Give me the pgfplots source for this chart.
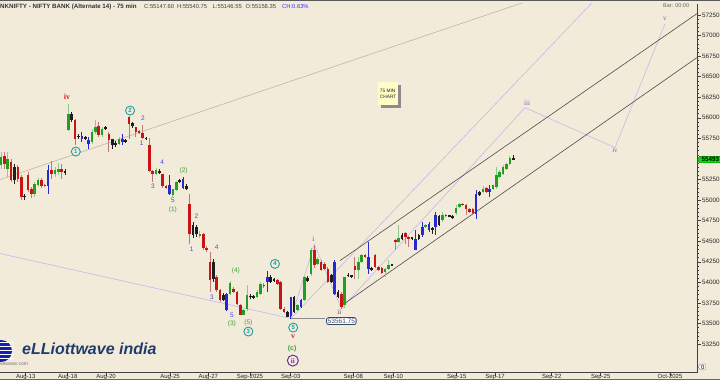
\documentclass[border=0pt]{standalone}
\usepackage{pgfplots}
\pgfplotsset{compat=1.18}
\usepackage{pgfplotstable}
\usepackage{fontspec}
\setmainfont{Liberation Sans}
\newfontfamily\seriffont{Liberation Serif}
\usetikzlibrary{shapes.symbols}
\definecolor{bg}{HTML}{F3EBD9}
\definecolor{cG}{HTML}{20A020}
\definecolor{cR}{HTML}{C81414}
\definecolor{cK}{HTML}{1E1E1E}
\definecolor{cB}{HTML}{2828D2}
\definecolor{wG}{HTML}{8CC88C}
\definecolor{wR}{HTML}{BE7878}
\definecolor{tealc}{HTML}{1E9E9E}
\definecolor{wblue}{HTML}{4646E6}
\definecolor{wgreen}{HTML}{3CA03C}
\definecolor{wred}{HTML}{E02020}
\definecolor{wpurp}{HTML}{7030A0}
\definecolor{lpurp}{HTML}{C4B8EA}
\definecolor{greyline}{HTML}{BDB5A6}
\definecolor{navy}{HTML}{1F3C6E}
\definecolor{slate}{HTML}{34486A}

\pgfplotstableread{
i t o h l c
1 1 55432 55590 55383 55529
2 2 55541 55590 55383 55444
3 1 55383 55590 55286 55505
4 2 55468 55505 55225 55249
5 3 55407 55444 55201 55249
6 2 55407 55432 55225 55262
7 2 55286 55310 55007 55043
8 3 55043 55080 55007 55055
9 2 55310 55347 55104 55128
10 2 55140 55165 55031 55080
11 1 55080 55225 55043 55201
12 1 55189 55274 55165 55249
13 2 55249 55274 55152 55177
14 2 55189 55201 55165 55177
15 4 55177 55432 55080 55371
16 2 55371 55480 55262 55322
17 1 55322 55407 55286 55371
18 1 55347 55456 55310 55383
19 2 55383 55444 55262 55347
20 3 55359 55383 55310 55334
21 1 55857 56173 55845 56051
22 3 56051 56075 55954 55978
23 2 55978 55990 55675 55748
24 3 55784 55808 55748 55772
25 4 55784 55833 55711 55748
26 3 55766 55784 55736 55754
27 4 55736 55772 55626 55687
28 1 55711 55869 55687 55833
29 1 55833 55978 55808 55893
30 2 55906 55954 55772 55796
31 1 55796 55893 55772 55869
32 3 55887 55906 55857 55875
33 2 55808 55833 55590 55736
34 3 55748 55748 55626 55675
35 3 55693 55723 55650 55681
36 1 55687 55772 55675 55748
37 4 55748 55808 55675 55711
38 3 55729 55748 55699 55717
39 2 56015 56027 55748 55930
40 3 55942 55954 55881 55906
41 2 55893 55893 55772 55833
42 2 55845 55857 55808 55821
43 2 55821 55918 55748 55760
44 3 55760 55772 55736 55748
45 2 55675 55760 55347 55359
46 2 55359 55371 55225 55322
47 1 55322 55395 55310 55371
48 3 55359 55383 55322 55334
49 2 55322 55322 55152 55177
50 2 55177 55189 55140 55152
51 4 55189 55310 55067 55080
52 1 55067 55140 55043 55140
53 1 55128 55237 55116 55225
54 3 55249 55262 55213 55225
55 4 55262 55286 55140 55152
56 3 55177 55201 55128 55140
57 2 54958 55080 54472 54594
58 3 54703 54739 54545 54582
59 3 54679 54703 54557 54594
60 1 54569 54630 54545 54594
61 2 54594 54606 54399 54424
62 2 54424 54448 54375 54399
63 2 54253 54375 53889 54035
64 3 54253 54290 54010 54047
65 2 54071 54095 53889 53913
66 2 53913 53925 53767 53792
67 3 53852 53877 53779 53792
68 4 53864 53877 53658 53670
69 1 53864 54022 53852 53998
70 2 53925 53950 53877 53889
71 2 53889 53901 53731 53743
72 2 53731 53743 53600 53610
73 1 53610 53682 53600 53670
74 1 53682 53974 53658 53852
75 3 53840 53864 53804 53828
76 3 53828 53852 53804 53822
77 1 53828 53913 53816 53889
78 1 53864 54010 53852 53986
79 2 53974 53998 53937 53962
80 4 54010 54144 53889 54071
81 3 54071 54095 53998 54010
82 3 54041 54059 54010 54029
83 2 54035 54047 53974 53986
84 2 54010 54022 53670 53682
85 2 53682 53706 53634 53646
86 3 53646 53658 53575 53585
87 4 53590 53828 53562 53828
88 3 53828 53840 53634 53646
89 1 53670 53743 53658 53731
90 4 53706 53804 53694 53792
91 1 53792 54083 53779 54071
92 3 54059 54083 54010 54022
93 1 54108 54424 54083 54399
94 2 54399 54460 54181 54217
95 1 54229 54314 54217 54290
96 2 54253 54278 54144 54156
97 2 54229 54253 54156 54168
98 2 54168 54193 53998 54010
99 3 54095 54108 53998 54010
100 4 53864 54278 53852 54253
101 3 53889 53913 53816 53828
102 2 53864 53889 53682 53706
103 1 53731 54071 53694 54071
104 3 54095 54108 54071 54083
105 3 54083 54095 54059 54077
106 2 54205 54314 54047 54156
107 1 54156 54314 54047 54253
108 1 54253 54351 54241 54339
109 2 54339 54351 54302 54314
110 4 54314 54496 54108 54168
111 3 54168 54193 54144 54162
112 2 54339 54351 54181 54193
113 2 54193 54205 54144 54156
114 2 54181 54193 54108 54120
115 1 54132 54181 54071 54168
116 1 54168 54278 54156 54217
117 3 54217 54229 54205 54211
118 2 54521 54533 54399 54496
119 1 54496 54703 54484 54545
120 3 54582 54606 54521 54533
121 2 54606 54618 54472 54557
122 2 54557 54569 54436 54533
123 3 54545 54557 54521 54539
124 4 54533 54642 54399 54399
125 3 54533 54594 54521 54582
126 4 54582 54739 54557 54679
127 1 54679 54715 54667 54703
128 4 54642 54739 54618 54715
129 3 54654 54679 54594 54648
130 4 54679 54861 54582 54824
131 3 54703 54824 54691 54812
132 1 54764 54861 54739 54824
133 2 54824 54836 54800 54812
134 3 54812 54824 54800 54806
135 3 54812 54824 54776 54788
136 1 54849 54946 54824 54909
137 1 54922 54970 54909 54958
138 2 54958 54970 54934 54946
139 2 54946 54958 54824 54897
140 2 54897 54909 54849 54861
141 2 54897 54909 54836 54849
142 4 54836 55128 54776 55080
143 3 55104 55116 55055 55067
144 1 55104 55177 55092 55140
145 2 55152 55165 55092 55104
146 4 55140 55189 55043 55104
147 1 55140 55189 55128 55189
148 1 55165 55407 55140 55310
149 1 55286 55371 55274 55347
150 1 55322 55432 55310 55407
151 1 55383 55456 55371 55444
152 1 55444 55541 55432 55517
153 3 55517 55553 55492 55493
}\candles

\pgfplotsset{
  wick/.style={draw=none, mark=none, forget plot,
    error bars/y dir=both, error bars/y explicit, error bars/error mark=none,
    error bars/error bar style={line width=0.8pt, draw=#1}},
  body/.style={draw=none, mark=none, forget plot,
    error bars/y dir=both, error bars/y explicit, error bars/error mark=none,
    error bars/error bar style={line width=2.6pt, draw=#1}},
}

\begin{document}
\begin{tikzpicture}[x=1pt,y=1pt]
\fill[bg] (0,0) rectangle (720,380);
\begin{axis}[
  at={(0,9)}, anchor=south west, scale only axis,
  width=697pt, height=369pt,
  xmin=0.703, xmax=207.53, ymin=52904, ymax=57388,
  axis x line*=bottom, axis y line*=right,
  axis line style={draw=black!75, line width=0.8pt},
  clip mode=individual,
  tick align=outside,
  major tick length=3.5pt, minor tick length=2pt,
  tick style={draw=black!75, line width=0.5pt},
  xtick={8.33,20.79,32.16,51.15,62.51,74.89,86.96,105.54,117.41,136.22,147.59,164.41,178.95,199.52},
  xticklabels={Aug-13,Aug-18,Aug-20,Aug-25,Aug-27,Sep-2025,Sep-03,Sep-08,Sep-10,Sep-15,Sep-17,Sep-22,Sep-25,Oct-2025},
  xticklabel style={font=\fontsize{6}{6.5}\selectfont, text=black!85, inner sep=0pt, yshift=2.2pt},
  ytick={53250,53500,...,57250},
  minor y tick num=4,
  scaled y ticks=false,
  yticklabel style={font=\fontsize{6.3}{7}\selectfont, text=black!85, inner sep=0pt, xshift=1.5pt},
  /pgf/number format/fixed, /pgf/number format/fixed zerofill, /pgf/number format/precision=1,
  /pgf/number format/1000 sep={}, /pgf/number format/assume math mode=true,
]
% trend lines
\addplot[greyline, line width=0.6pt] coordinates {(0.703,55249) (156.8,57412)};
\addplot[lpurp, line width=0.6pt] coordinates {(0.703,54351) (87,53562)};
\addplot[lpurp, line width=0.6pt] coordinates {(87,53562) (176.7,57412)};
\addplot[lpurp, line width=0.6pt] coordinates {(87,53562) (94,54460) (102,53682) (156.5,56124) (183.2,55638) (198.0,57140)};
\addplot[black!45, line width=1pt] coordinates {(87,53562) (97,53562)};
\addplot[black!70, line width=0.6pt] coordinates {(101.6,54265) (207.53,57266)};
\addplot[black!70, line width=0.6pt] coordinates {(101.6,53706) (207.53,56732)};

% candles: wicks
\addplot[restrict expr to domain={\thisrow{t}}{1:1}, wick=wG] table[x=i, y expr={(\thisrow{h}+\thisrow{l})/2}, y error expr={(\thisrow{h}-\thisrow{l})/2}]{\candles};
\addplot[restrict expr to domain={\thisrow{t}}{2:2}, wick=wR] table[x=i, y expr={(\thisrow{h}+\thisrow{l})/2}, y error expr={(\thisrow{h}-\thisrow{l})/2}]{\candles};
\addplot[restrict expr to domain={\thisrow{t}}{3:3}, wick=cK] table[x=i, y expr={(\thisrow{h}+\thisrow{l})/2}, y error expr={(\thisrow{h}-\thisrow{l})/2}]{\candles};
\addplot[restrict expr to domain={\thisrow{t}}{4:4}, wick=cB] table[x=i, y expr={(\thisrow{h}+\thisrow{l})/2}, y error expr={(\thisrow{h}-\thisrow{l})/2}]{\candles};
% candles: bodies
\addplot[restrict expr to domain={\thisrow{t}}{1:1}, body=cG] table[x=i, y expr={(\thisrow{o}+\thisrow{c})/2}, y error expr={max(abs(\thisrow{o}-\thisrow{c})/2,5)}]{\candles};
\addplot[restrict expr to domain={\thisrow{t}}{2:2}, body=cR] table[x=i, y expr={(\thisrow{o}+\thisrow{c})/2}, y error expr={max(abs(\thisrow{o}-\thisrow{c})/2,5)}]{\candles};
\addplot[restrict expr to domain={\thisrow{t}}{3:3}, body=cK] table[x=i, y expr={(\thisrow{o}+\thisrow{c})/2}, y error expr={max(abs(\thisrow{o}-\thisrow{c})/2,5)}]{\candles};
\addplot[restrict expr to domain={\thisrow{t}}{4:4}, body=cB] table[x=i, y expr={(\thisrow{o}+\thisrow{c})/2}, y error expr={max(abs(\thisrow{o}-\thisrow{c})/2,5)}]{\candles};

% wave labels
\tikzset{
  wb/.style={text=wblue, font=\fontsize{6.5}{7}\selectfont, inner sep=0pt},
  wg/.style={text=wgreen, font=\fontsize{6.5}{7}\selectfont, inner sep=0pt},
  wr/.style={text=wred, font=\seriffont\fontsize{8}{8}\selectfont\bfseries, inner sep=0pt},
  wp/.style={text=wpurp, font=\seriffont\fontsize{7}{7}\selectfont, inner sep=0pt},
  cc/.style={circle, draw=tealc, line width=0.9pt, text=tealc, fill=bg,
     font=\fontsize{6}{6}\selectfont\bfseries, inner sep=0pt, minimum size=9pt},
}
\node[wr] at (axis cs:20.6,56258) {iv};
\node[cc] at (axis cs:23.2,55590) {1};
\node[cc] at (axis cs:39.3,56088) {2};
\node[wb] at (axis cs:43.1,55997) {2};
\node[wb] at (axis cs:42.75,55687) {1};
\node[wb] at (axis cs:48.8,55456) {4};
\node[wb] at (axis cs:46.1,55164) {3};
\node[wg] at (axis cs:55.2,55355) {(2)};
\node[wb] at (axis cs:52.0,54994) {5};
\node[wg] at (axis cs:52.0,54888) {(1)};
\node[wb] at (axis cs:59.0,54800) {2};
\node[wb] at (axis cs:57.6,54399) {1};
\node[wb] at (axis cs:65.0,54427) {4};
\node[wb] at (axis cs:63.6,53816) {3};
\node[wg] at (axis cs:70.7,54144) {(4)};
\node[wb] at (axis cs:69.5,53597) {5};
\node[wg] at (axis cs:69.5,53491) {(3)};
\node[wg] at (axis cs:74.4,53503) {(5)};
\node[cc] at (axis cs:74.4,53403) {3};
\node[cc] at (axis cs:82.3,54225) {4};
\node[cc] at (axis cs:87.7,53451) {5};
\node[wr] at (axis cs:87.7,53338) {v};
\node[wg, font=\fontsize{7}{7}\selectfont\bfseries] at (axis cs:87.4,53200) {(c)};
\node[circle, draw=wpurp, line width=1pt, text=wpurp, inner sep=0pt, minimum size=11pt,
      font=\seriffont\fontsize{7}{7}\selectfont\bfseries] at (axis cs:87.6,53050) {ii};
\node[wp] at (axis cs:93.7,54529) {i};
\node[wp] at (axis cs:101.4,53633) {ii};
\node[rounded corners=2pt, draw=slate, fill=white, text=slate, line width=0.8pt,
      font=\fontsize{6.5}{7}\selectfont, inner sep=1.2pt] at (axis cs:102.0,53530) {53561.75};
\node[wp, text=wpurp!80] at (axis cs:157.1,56173) {iii};
\node[wp, text=wpurp!80] at (axis cs:183.2,55602) {iv};
\node[wp, text=wpurp!80] at (axis cs:198.0,57205) {v};
\coordinate (lastp) at (axis cs:207.53,55493);
\end{axis}
% last price marker (covers the 55500 label, as in the reference)
\node[signal, signal to=west, signal pointer angle=110, fill=green!90!black, draw=green!45!black,
      font=\fontsize{6.3}{7}\selectfont\bfseries, inner sep=1pt, minimum width=24pt, anchor=west] at (lastp) {55493};
% title
\node[anchor=west, inner sep=0pt, font=\fontsize{6.2}{8}\selectfont\bfseries, text=black!80] at (0,373.3) {NKNIFTY - NIFTY BANK (Alternate 14) - 75 min};
\tikzset{tt/.style={anchor=west, inner sep=0pt, font=\fontsize{5.8}{8}\selectfont, text=black!75}}
\node[tt] at (144,373.3) {C:55147.60};
\node[tt] at (177,373.3) {H:55540.75};
\node[tt] at (212.5,373.3) {L:55146.55};
\node[tt] at (245.5,373.3) {O:55158.35};
\node[tt, text=blue!80] at (282,373.3) {CH:0.63\%};
\node[anchor=west, inner sep=0pt, font=\fontsize{5.5}{6}\selectfont, text=black!60] at (663,374.5) {Bar: 00:00};
% 75 min box
\fill[black!45] (381,272) rectangle (401,295);
\node[fill=yellow!22, minimum width=20.5pt, minimum height=22.7pt, inner sep=0pt, anchor=north west,
      align=left, font=\fontsize{4.8}{5.8}\selectfont, text=black!85] at (377.7,297.7) {75 MIN\\CHART};
% zero marker
\node[signal, signal to=west, signal pointer angle=110, fill=white, draw=black!50,
      font=\fontsize{6}{6}\selectfont, inner sep=0.8pt, anchor=west] at (698,13) {0};
% logo
\begin{scope}
\clip (0,14) rectangle (16,44);
\fill[blue!45!navy] (1,29) circle (11);
\foreach \yy in {21,25,29,33,37} {\fill[white] (-12,\yy) rectangle (14,\yy+1.3);}
\end{scope}
\node[anchor=west, inner sep=0pt, text=navy, font=\fontsize{16}{16}\selectfont\bfseries\itshape] at (22,31.5) {eLLiottwave india};
\node[anchor=west, inner sep=0pt, text=black!55, font=\fontsize{5}{6}\selectfont] at (0,16) {vewave.com};
% frame
\fill[black!65] (0,378.6) rectangle (720,380);
\draw[black!60, line width=0.6pt] (0,0.4) -- (720,0.4);
\pgfresetboundingbox
\path[use as bounding box] (0,0) rectangle (720,380);
\end{tikzpicture}
\end{document}
